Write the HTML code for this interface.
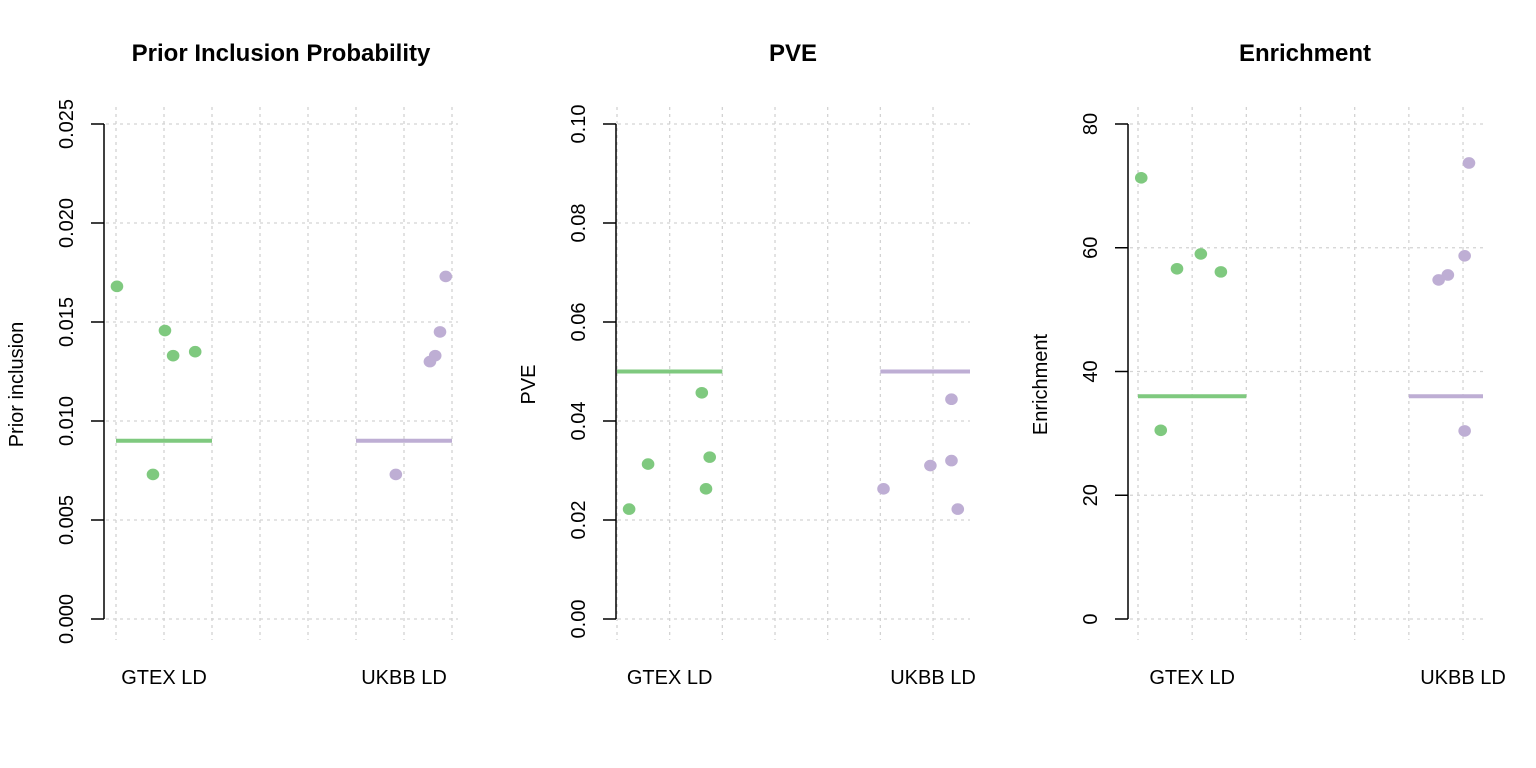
<!DOCTYPE html>
<html><head><meta charset="utf-8">
<style>
html,body{margin:0;padding:0;background:#fff;width:1536px;height:768px;overflow:hidden}
svg text{font-family:"Liberation Sans",Arial,sans-serif;fill:#000}
</style></head>
<body>
<svg id="chart" width="1536" height="768" viewBox="0 0 1536 768" xmlns="http://www.w3.org/2000/svg"></svg>
<script>
// ---- data ----
const categories = ["GTEX LD", "UKBB LD"];
const panelTitles = ["Prior Inclusion Probability", "PVE", "Enrichment"];
const yTitles = ["Prior inclusion", "PVE", "Enrichment"];
const yTicks1 = [0, 0.005, 0.010, 0.015, 0.020, 0.025];
const yTickLabels1 = ["0.000","0.005","0.010","0.015","0.020","0.025"];
const yTicks2 = [0, 0.02, 0.04, 0.06, 0.08, 0.10];
const yTickLabels2 = ["0.00","0.02","0.04","0.06","0.08","0.10"];
const yTicks3 = [0, 20, 40, 60, 80];
const yTickLabels3 = ["0","20","40","60","80"];
// jittered x positions (in grid units) and values
const gtexX1 = [0.02, 1.02, 1.19, 1.65, 0.77];
const gtexY1 = [0.0168, 0.01457, 0.0133, 0.0135, 0.0073];
const ukbbX1 = [6.87, 6.75, 6.65, 6.54, 5.83];
const ukbbY1 = [0.0173, 0.0145, 0.0133, 0.0130, 0.0073];
const means1 = [0.009, 0.009];
const gtexX2 = [0.23, 0.59, 1.61, 1.76, 1.69];
const gtexY2 = [0.0222, 0.0313, 0.0457, 0.0327, 0.0263];
const ukbbX2 = [5.06, 5.95, 6.35, 6.35, 6.47];
const ukbbY2 = [0.0263, 0.0310, 0.0444, 0.0320, 0.0222];
const means2 = [0.05, 0.05];
const gtexX3 = [0.06, 0.72, 1.16, 1.53, 0.42];
const gtexY3 = [71.3, 56.6, 59.0, 56.1, 30.5];
const ukbbX3 = [6.11, 6.03, 5.72, 5.55, 6.03];
const ukbbY3 = [73.7, 58.7, 55.6, 54.8, 30.4];
const means3 = [36, 36];

const NS = "http://www.w3.org/2000/svg";
const svg = document.getElementById("chart");
const GREEN = "#7fc97f", PURPLE = "#beaed4";

function mk(tag, attrs, parent){
  const e = document.createElementNS(NS, tag);
  for (const k in attrs) e.setAttribute(k, attrs[k]);
  (parent||svg).appendChild(e);
  return e;
}

const panels = [
  {axisX:104, x0:116, step:48, nGrid:8, right:458, yMax:0.025, ticks:yTicks1, labels:yTickLabels1,
   gx:gtexX1, gy:gtexY1, ux:ukbbX1, uy:ukbbY1, means:means1, cx:281, name:"prior-inclusion"},
  {axisX:616, x0:617, step:52.67, nGrid:7, right:970, yMax:0.10, ticks:yTicks2, labels:yTickLabels2,
   gx:gtexX2, gy:gtexY2, ux:ukbbX2, uy:ukbbY2, means:means2, cx:793, name:"pve"},
  {axisX:1128, x0:1138, step:54.17, nGrid:7, right:1483, yMax:80, ticks:yTicks3, labels:yTickLabels3,
   gx:gtexX3, gy:gtexY3, ux:ukbbX3, uy:ukbbY3, means:means3, cx:1305, name:"enrichment"}
];
const yTop = 124, yBot = 619;
const catPos = [1, 6];

panels.forEach((p, i) => {
  const g = mk("g", {});
  
  
  const xs = v => p.x0 + v * p.step;
  const ys = v => yBot - (v / p.yMax) * (yBot - yTop);
  const clipId = "clip" + i;
  const cp = mk("clipPath", {id: clipId}, g);
  mk("rect", {x: p.axisX, y: 100, width: p.right - p.axisX, height: 545}, cp);

  for (let k = 0; k < p.nGrid; k++) {
    const l = mk("line", {x1: xs(k), x2: xs(k), y1: 107, y2: 640, stroke: "#d3d3d3", "stroke-width": 1.3, "stroke-dasharray": "3,4"}, g);
    
    
  }
  p.ticks.forEach(t => {
    const l = mk("line", {x1: p.axisX + 2, x2: p.right, y1: ys(t), y2: ys(t), stroke: "#d3d3d3", "stroke-width": 1.3, "stroke-dasharray": "3,4"}, g);
    
    
  });

  const ax = mk("line", {x1: p.axisX, x2: p.axisX, y1: ys(p.ticks[0]), y2: ys(p.ticks[p.ticks.length-1]), stroke: "#000", "stroke-width": 1.5}, g);
  
  
  p.ticks.forEach((t, k) => {
    const tk = mk("line", {x1: p.axisX - 13, x2: p.axisX, y1: ys(t), y2: ys(t), stroke: "#000", "stroke-width": 1.5}, g);
    
    
    const tx = mk("text", {x: 0, y: 0, "font-size": 20, "text-anchor": "middle", transform: `translate(${p.axisX - 31},${ys(t)}) rotate(-90)`}, g);
    tx.textContent = p.labels[k];
    
    
  });

  const yt = mk("text", {x: 0, y: 0, "font-size": 20, "text-anchor": "middle", transform: `translate(${p.axisX - 81},${(yTop + yBot) / 2 + 13}) rotate(-90)`}, g);
  yt.textContent = yTitles[i];
  
  

  const tt = mk("text", {x: p.cx, y: 61, "font-size": 24, "font-weight": "bold", "text-anchor": "middle"}, g);
  tt.textContent = panelTitles[i];
  
  

  categories.forEach((c, k) => {
    const xl = mk("text", {x: xs(catPos[k]), y: 684, "font-size": 20, "text-anchor": "middle"}, g);
    xl.textContent = c;
    
    
  });

  const colors = [GREEN, PURPLE];
  p.means.forEach((m, k) => {
    const ml = mk("line", {x1: xs(catPos[k] - 1), x2: xs(catPos[k] + 1), y1: ys(m), y2: ys(m), stroke: colors[k], "stroke-width": 4, "clip-path": `url(#${clipId})`}, g);
    
    
  });

  p.gx.forEach((x, k) => {
    const c = mk("ellipse", {cx: xs(x), cy: ys(p.gy[k]), rx: 6.3, ry: 5.8, fill: GREEN}, g);
    
    
  });
  p.ux.forEach((x, k) => {
    const c = mk("ellipse", {cx: xs(x), cy: ys(p.uy[k]), rx: 6.3, ry: 5.8, fill: PURPLE}, g);
    
    
  });
});
</script>
</body></html>
